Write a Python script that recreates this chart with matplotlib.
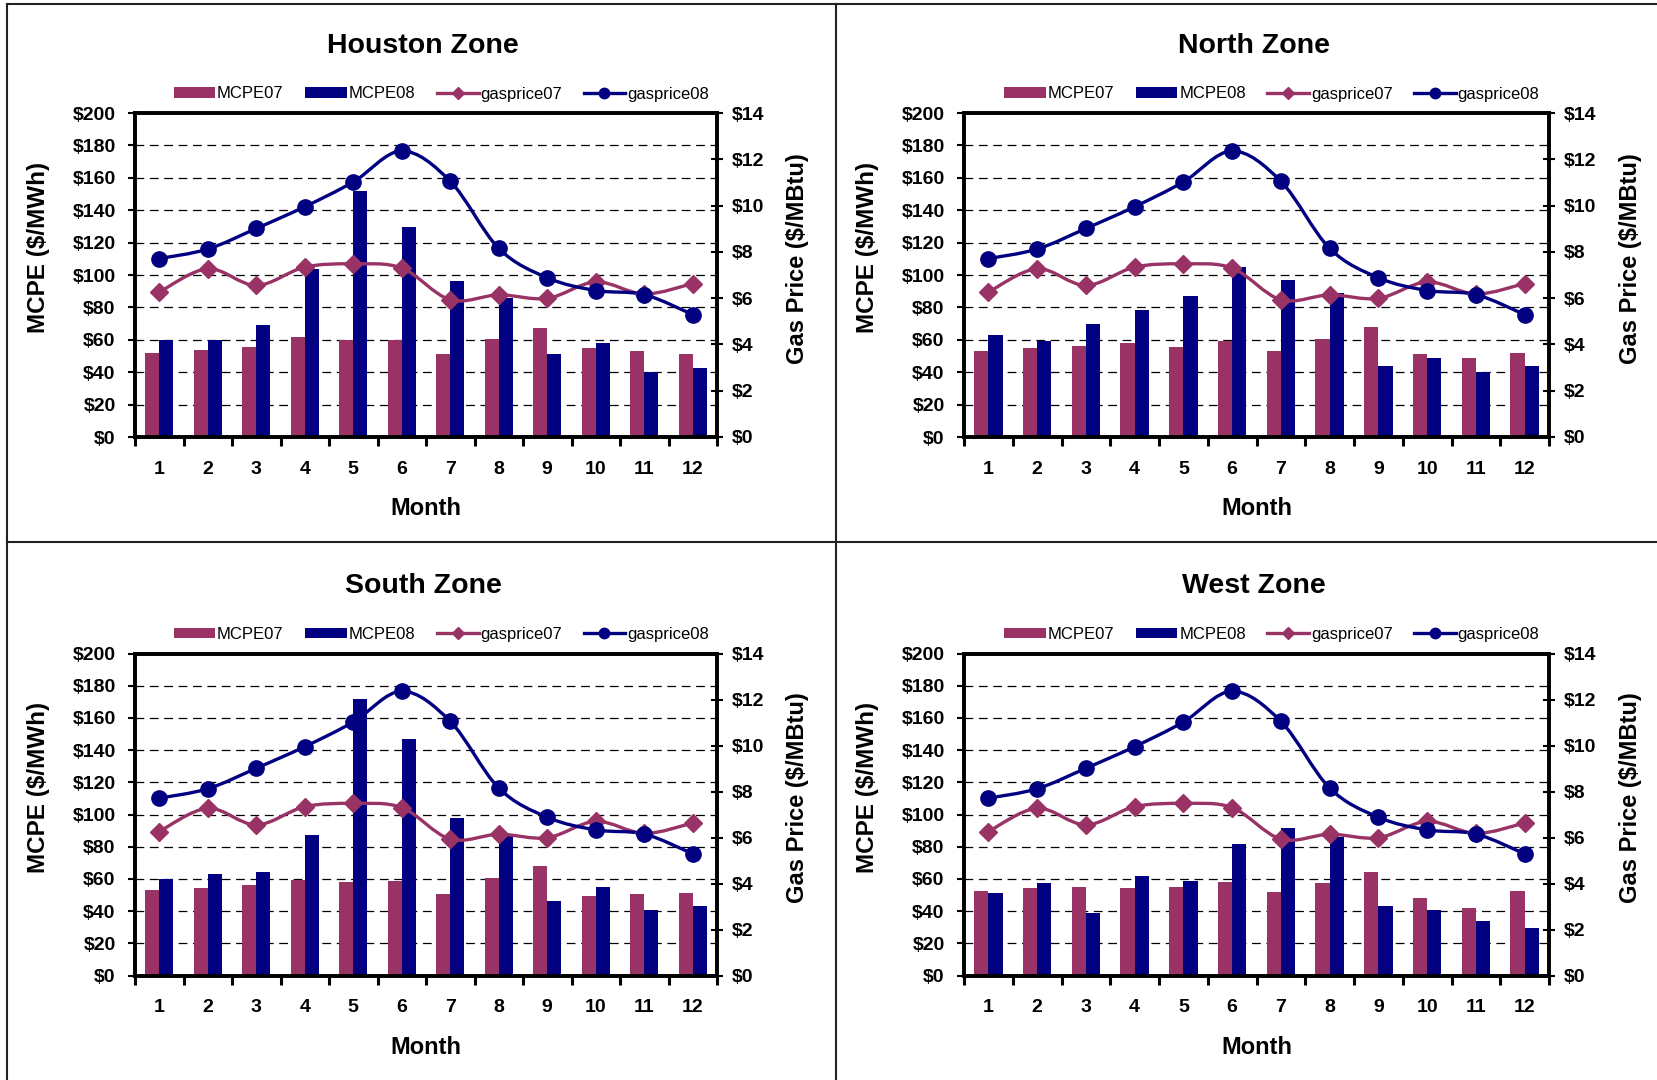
import numpy as np
import matplotlib
matplotlib.use("Agg")
import matplotlib.pyplot as plt
from matplotlib.path import Path
from matplotlib.patches import PathPatch, Patch
from matplotlib.lines import Line2D
from matplotlib.ticker import FuncFormatter

plt.rcParams['font.family'] = ['Liberation Sans', 'DejaVu Sans']

months = [1, 2, 3, 4, 5, 6, 7, 8, 9, 10, 11, 12]
gasprice07 = [6.26, 7.27, 6.55, 7.34, 7.48, 7.30, 5.93, 6.14, 5.99, 6.70, 6.18, 6.63]
gasprice08 = [7.71, 8.12, 9.01, 9.95, 11.02, 12.36, 11.05, 8.15, 6.88, 6.33, 6.15, 5.29]

zones = ['Houston Zone', 'North Zone', 'South Zone', 'West Zone']
houston07 = [52, 54, 55.7, 62, 60, 59.6, 51.5, 60.6, 67, 54.7, 52.8, 51]
houston08 = [60, 60, 69, 104, 152, 129.5, 96.6, 86, 51, 58, 40.4, 42.8]
north07 = [52.8, 54.7, 56.4, 58.3, 55.7, 59, 52.8, 60.2, 68, 51.5, 49, 52]
north08 = [62.8, 59, 70, 78.7, 86.8, 104.7, 97.2, 89, 44, 48.5, 40.4, 44]
south07 = [53, 54.5, 56.3, 59.3, 58, 58.7, 50.6, 60.6, 67.9, 49.3, 50.6, 51.2]
south08 = [60, 63, 64.2, 87, 172, 147, 97.8, 88, 46.5, 54.9, 40.8, 43.3]
west07 = [52.6, 54.4, 54.9, 54.4, 54.9, 58, 51.9, 57.4, 64.2, 48, 42, 52.6]
west08 = [51.2, 57.4, 38.8, 62, 58.7, 81.5, 91.8, 86, 43, 40.8, 34, 29.7]

mcpe07 = [houston07, north07, south07, west07]
mcpe08 = [houston08, north08, south08, west08]

C07 = '#993366'
C08 = '#000080'


def smooth_path(x, y):
    # excel style smoothed line: bezier through the points
    pts = np.column_stack([x, y]).astype(float)
    n = len(pts)
    verts = [pts[0]]
    codes = [Path.MOVETO]
    for i in range(n - 1):
        p0 = pts[i - 1] if i > 0 else pts[i]
        p1 = pts[i]
        p2 = pts[i + 1]
        p3 = pts[i + 2] if i + 2 < n else pts[i + 1]
        verts += [p1 + (p2 - p0) / 6.0, p2 - (p3 - p1) / 6.0, p2]
        codes += [Path.CURVE4] * 3
    return Path(verts, codes)


W, H = 1657, 1080
fig = plt.figure(figsize=(W / 100, H / 100), dpi=100)

rects = [
    [135 / W, 1 - 437 / H, 582 / W, 324 / H],
    [964 / W, 1 - 437 / H, 585 / W, 324 / H],
    [135 / W, 1 - 975.5 / H, 582 / W, 322 / H],
    [964 / W, 1 - 975.5 / H, 585 / W, 322 / H],
]

bw = 0.29
x = np.array(months)

for k in range(4):
    ax = fig.add_axes(rects[k])
    ax.bar(x - bw / 2, mcpe07[k], width=bw, color=C07, zorder=2)
    ax.bar(x + bw / 2, mcpe08[k], width=bw, color=C08, zorder=2)
    ax.set_xlim(0.5, 12.5)
    ax.set_ylim(0, 200)
    ax.set_yticks(range(0, 201, 20))
    ax.yaxis.set_major_formatter(FuncFormatter(lambda v, p: '$%d' % v))
    ax.set_axisbelow(True)
    ax.grid(axis='y', color='black', linestyle=(0, (7, 4.5)), linewidth=0.9)

    ax.set_xticks(np.arange(0.5, 13, 1))
    ax.set_xticklabels([])
    ax.set_xticks(x, minor=True)
    ax.set_xticklabels([str(m) for m in months], minor=True)
    ax.tick_params(axis='x', which='major', direction='out', length=6.5, width=2.2)
    ax.tick_params(axis='x', which='minor', length=0, pad=17, labelsize=14)
    ax.tick_params(axis='y', direction='out', length=5, width=1.5, pad=9, labelsize=14)
    for lab in ax.get_xticklabels(minor=True) + ax.get_yticklabels():
        lab.set_fontweight('bold')
    for s in ax.spines.values():
        s.set_linewidth(2.6)
    ax.set_xlabel('Month', fontsize=17, fontweight='bold', labelpad=14)
    ax.set_ylabel('MCPE ($/MWh)', fontsize=17.5, fontweight='bold', va='center')
    ax.yaxis.set_label_coords(-0.165, 0.585)

    ax2 = ax.twinx()
    ax2.set_ylim(0, 14)
    ax2.set_yticks(range(0, 15, 2))
    ax2.yaxis.set_major_formatter(FuncFormatter(lambda v, p: '$%d' % v))
    ax2.tick_params(axis='y', direction='inout', length=9, width=1.5, pad=6, labelsize=14)
    for lab in ax2.get_yticklabels():
        lab.set_fontweight('bold')
    for s in ax2.spines.values():
        s.set_linewidth(2.6)
    ax2.set_ylabel('Gas Price ($/MBtu)', fontsize=17, fontweight='bold', va='center')
    ax2.yaxis.set_label_coords(1.139, 0.552)

    ax2.add_patch(PathPatch(smooth_path(x, gasprice07), facecolor='none',
                            edgecolor=C07, lw=2.4, zorder=3))
    ax2.plot(x, gasprice07, linestyle='none', marker='D', markersize=9.5,
             color=C07, zorder=4)
    ax2.add_patch(PathPatch(smooth_path(x, gasprice08), facecolor='none',
                            edgecolor=C08, lw=2.4, zorder=3))
    ax2.plot(x, gasprice08, linestyle='none', marker='o', markersize=11,
             color=C08, zorder=4)

    ax.annotate(zones[k], xy=(0.5, 1), xycoords='axes fraction',
                xytext=(-2, 48.5), textcoords='offset points',
                ha='center', va='center', fontsize=20.5, fontweight='bold')

    handles = [
        Patch(facecolor=C07, label='MCPE07'),
        Patch(facecolor=C08, label='MCPE08'),
        Line2D([], [], color=C07, lw=2.4, marker='D', markersize=6.5, label='gasprice07'),
        Line2D([], [], color=C08, lw=2.4, marker='o', markersize=7.5, label='gasprice08'),
    ]
    ax.legend(handles=handles, loc='center', bbox_to_anchor=(0.526, 1 + 19 / rects[k][3] / H),
              ncol=4, frameon=False, fontsize=12, handlelength=2.5, handleheight=0.6,
              handletextpad=0.1, columnspacing=1.3, borderaxespad=0)

# panel border lines
lc = '#222222'
fig.add_artist(Line2D([7 / W, 1], [1 - 4 / H, 1 - 4 / H], transform=fig.transFigure, color=lc, lw=1.5))
fig.add_artist(Line2D([7 / W, 7 / W], [0, 1 - 4 / H], transform=fig.transFigure, color=lc, lw=1.5))
fig.add_artist(Line2D([836 / W, 836 / W], [0, 1 - 4 / H], transform=fig.transFigure, color=lc, lw=1.5))
fig.add_artist(Line2D([7 / W, 1], [1 - 542 / H, 1 - 542 / H], transform=fig.transFigure, color=lc, lw=1.5))

fig.savefig('out.png', dpi=100)
